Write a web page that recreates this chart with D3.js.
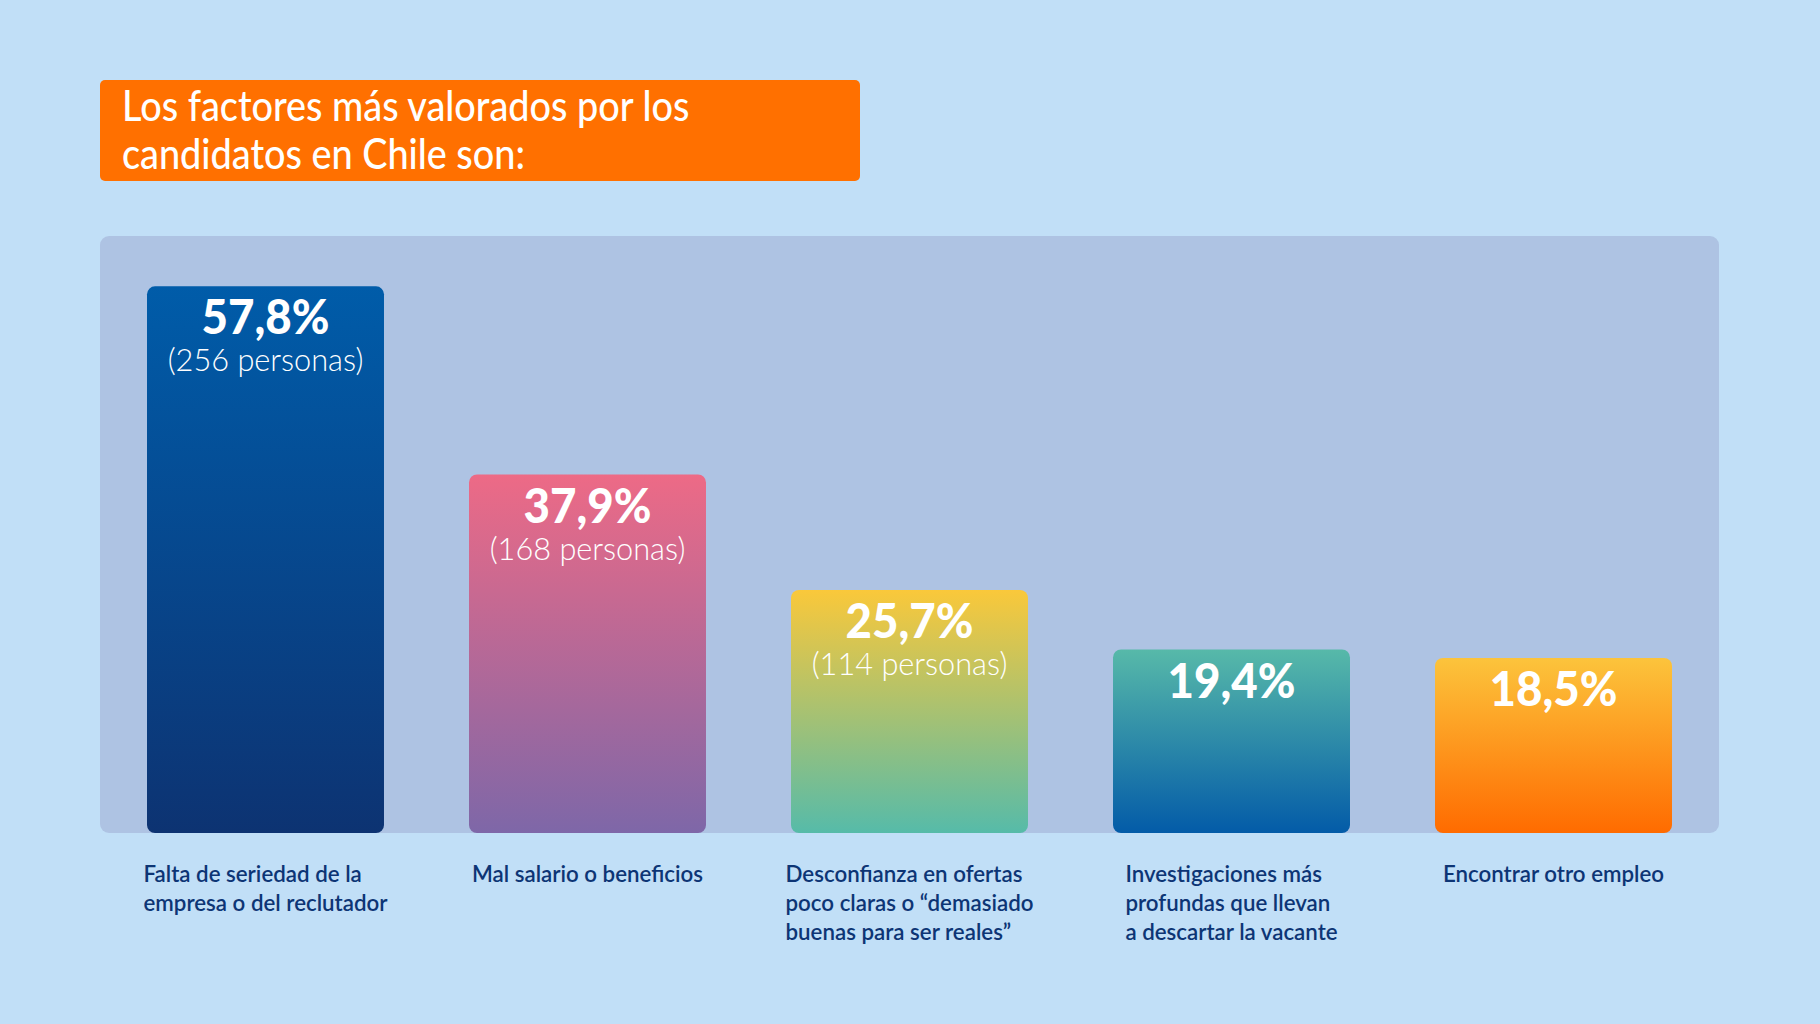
<!DOCTYPE html>
<html>
<head>
<meta charset="utf-8">
<script src="https://cdn.jsdelivr.net/npm/d3@7"></script>
<style>
  html, body { margin: 0; padding: 0; background: #c1dff7; }
  svg { display: block; font-family: Lato, "Open Sans", sans-serif; }
</style>
</head>
<body>
<div id="chart-container"></div>
<script>
// data
const categories = [
  ["Falta de seriedad de la", "empresa o del reclutador"],
  ["Mal salario o beneficios"],
  ["Desconfianza en ofertas", "poco claras o “demasiado", "buenas para ser reales”"],
  ["Investigaciones más", "profundas que llevan", "a descartar la vacante"],
  ["Encontrar otro empleo"],
];
const values = [57.8, 37.9, 25.7, 19.4, 18.5];
const persons = [256, 168, 114, null, null];
const titleLines = ["Los factores más valorados por los", "candidatos en Chile son:"];

// gradient stops (top, bottom) per bar
const barColors = [
  ["#005ca9", "#0d3372"],
  ["#ed6a86", "#7e67a8"],
  ["#fac83a", "#56bba9"],
  ["#57b9a9", "#035ba8"],
  ["#fcc43c", "#ff6b00"],
];

const width = 1820;
const height = 1024;
const panel = { x: 100, y: 236, w: 1619, h: 597 };

const svg = d3
  .select("#chart-container")
  .append("svg")
  .attr("width", width)
  .attr("height", height)
  .attr("viewBox", [0, 0, width, height]);

svg.append("rect").attr("width", width).attr("height", height).attr("fill", "#c1dff7");

// squeeze a text to look like the condensed face of the original
function condense(sel, k) {
  sel.each(function () {
    const len = this.getComputedTextLength();
    d3.select(this).attr("textLength", len * k).attr("lengthAdjust", "spacingAndGlyphs");
  });
}

// title box
svg
  .append("rect")
  .attr("x", 100)
  .attr("y", 80)
  .attr("width", 760)
  .attr("height", 101)
  .attr("rx", 5)
  .attr("fill", "#ff7000");

svg
  .append("g")
  .selectAll("text")
  .data(titleLines)
  .join("text")
  .attr("x", 122)
  .attr("y", (d, i) => 121 + i * 48)
  .attr("fill", "#fff")
  .attr("font-size", 42)
  .attr("font-weight", 500)
  .text((d) => d)
  .call(condense, 0.9);

// panel behind the bars
svg
  .append("rect")
  .attr("x", panel.x)
  .attr("y", panel.y)
  .attr("width", panel.w)
  .attr("height", panel.h)
  .attr("rx", 9)
  .attr("fill", "#aec3e3");

// scales
const x = d3
  .scaleBand()
  .domain(d3.range(values.length))
  .range([147, 1672])
  .paddingInner(0.264)
  .paddingOuter(0);

const y = d3.scaleLinear().domain([0, 60]).range([833, 265.5]);

const defs = svg.append("defs");
barColors.forEach(([top, bottom], i) => {
  const g = defs
    .append("linearGradient")
    .attr("id", `grad-${i}`)
    .attr("x1", 0)
    .attr("y1", 0)
    .attr("x2", 0)
    .attr("y2", 1);
  g.append("stop").attr("offset", "0%").attr("stop-color", top);
  g.append("stop").attr("offset", "100%").attr("stop-color", bottom);
});

const bars = svg
  .append("g")
  .selectAll("g")
  .data(values)
  .join("g");

bars
  .append("rect")
  .attr("x", (d, i) => x(i))
  .attr("y", (d) => y(d))
  .attr("width", x.bandwidth())
  .attr("height", (d) => y(0) - y(d))
  .attr("rx", 8)
  .attr("fill", (d, i) => `url(#grad-${i})`);

// value labels
bars
  .append("text")
  .attr("x", (d, i) => x(i) + x.bandwidth() / 2)
  .attr("y", (d) => y(d) + 48)
  .attr("text-anchor", "middle")
  .attr("fill", "#fff")
  .attr("font-size", 48)
  .attr("font-weight", 900)
  .text((d) => d.toFixed(1).replace(".", ",") + "%")
  .call(condense, 0.95);

bars
  .filter((d, i) => persons[i] != null)
  .append("text")
  .attr("x", (d) => x(values.indexOf(d)) + x.bandwidth() / 2)
  .attr("y", (d) => y(d) + 85)
  .attr("text-anchor", "middle")
  .attr("fill", "#fff")
  .attr("font-size", 32)
  .attr("font-weight", 300)
  .text((d) => `(${persons[values.indexOf(d)]} personas)`)
  .call(condense, 0.96);

// category labels under the bars, block centred on the bar, left aligned
const labels = svg
  .append("g")
  .selectAll("g")
  .data(categories)
  .join("g");

labels.each(function (lines, i) {
  const g = d3.select(this);
  const texts = g
    .selectAll("text")
    .data(lines)
    .join("text")
    .attr("y", (d, j) => 882 + j * 29)
    .attr("fill", "#0d3575")
    .attr("font-size", 23)
    .attr("font-weight", 600)
    .text((d) => d)
    .call(condense, 0.97);
  const maxW = d3.max(texts.nodes(), (n) => +n.getAttribute("textLength"));
  texts.attr("x", x(i) + x.bandwidth() / 2 - maxW / 2);
});
</script>
</body>
</html>
